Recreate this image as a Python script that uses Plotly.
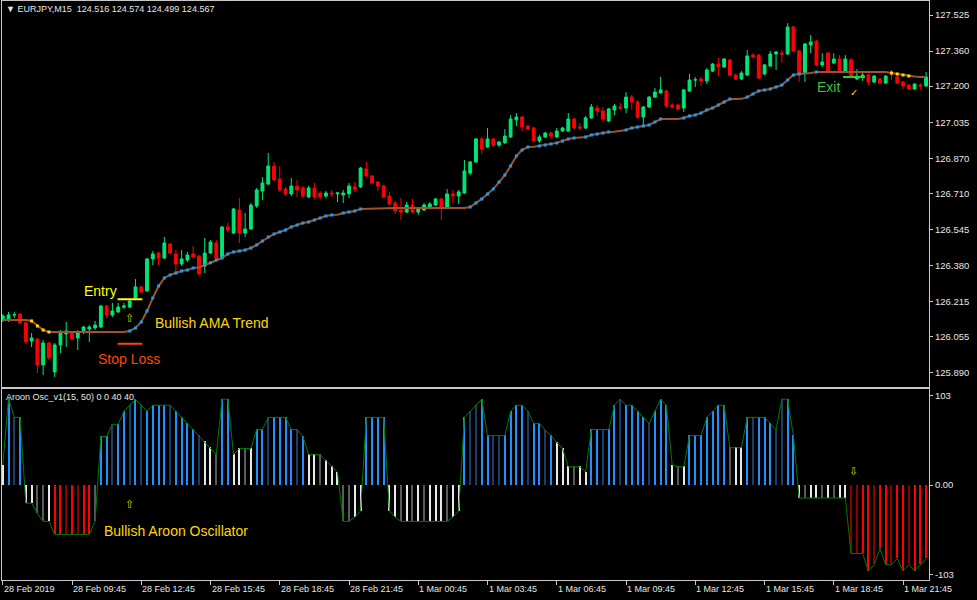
import plotly.graph_objects as go

# ---------------- data ----------------
bars = list(range(161))

open_ = [126.132,126.132,126.155,126.159,126.119,126.036,126.045,125.927,126.027,125.895,
         126.018,126.068,126.073,126.050,126.077,126.091,126.096,126.100,126.196,126.155,
         126.169,126.191,126.191,126.233,126.283,126.265,126.411,126.438,126.415,126.479,
         126.434,126.388,126.406,126.434,126.424,126.379,126.438,126.484,126.420,126.557,
         126.529,126.634,126.529,126.548,126.653,126.721,126.753,126.835,126.776,126.730,
         126.708,126.744,126.735,126.694,126.735,126.712,126.698,126.712,126.708,126.703,
         126.708,126.740,126.740,126.822,126.790,126.762,126.744,126.698,126.666,126.634,
         126.625,126.657,126.625,126.634,126.648,126.657,126.685,126.648,126.708,126.698,
         126.712,126.803,126.854,126.959,126.922,126.959,126.931,126.941,126.968,127.046,
         127.059,127.018,127.009,126.950,126.968,126.986,126.968,126.995,126.995,127.050,
         127.014,127.009,127.055,127.100,127.087,127.041,127.091,127.105,127.100,127.150,
         127.128,127.059,127.105,127.150,127.169,127.178,127.114,127.114,127.100,127.178,
         127.228,127.233,127.224,127.269,127.301,127.288,127.320,127.251,127.233,127.251,
         127.342,127.342,127.256,127.292,127.347,127.351,127.347,127.470,127.361,127.260,
         127.388,127.406,127.297,127.351,127.306,127.324,127.269,127.320,127.233,127.242,
         127.251,127.219,127.233,127.214,127.260,127.242,127.219,127.205,127.187,127.205,
         127.201]
high = [126.159,126.169,126.169,126.164,126.123,126.073,126.050,126.041,126.032,126.027,
        126.086,126.123,126.082,126.086,126.105,126.109,126.128,126.201,126.201,126.210,
        126.210,126.210,126.223,126.319,126.287,126.415,126.447,126.443,126.511,126.484,
        126.452,126.452,126.443,126.470,126.429,126.507,126.497,126.497,126.561,126.575,
        126.644,126.689,126.621,126.666,126.735,126.785,126.895,126.854,126.835,126.740,
        126.781,126.772,126.744,126.744,126.758,126.721,126.721,126.726,126.717,126.726,
        126.758,126.762,126.831,126.854,126.794,126.767,126.749,126.717,126.676,126.689,
        126.671,126.685,126.644,126.666,126.671,126.689,126.689,126.730,126.726,126.726,
        126.863,126.858,126.963,126.968,127.009,126.963,126.950,127.004,127.068,127.077,
        127.064,127.023,127.014,126.977,126.991,126.991,127.009,127.014,127.077,127.055,
        127.032,127.064,127.119,127.114,127.105,127.100,127.119,127.123,127.173,127.160,
        127.137,127.109,127.155,127.192,127.242,127.183,127.123,127.119,127.187,127.256,
        127.242,127.242,127.283,127.306,127.329,127.329,127.324,127.256,127.269,127.365,
        127.351,127.347,127.301,127.361,127.361,127.365,127.488,127.475,127.365,127.397,
        127.434,127.411,127.351,127.356,127.351,127.342,127.342,127.329,127.278,127.260,
        127.256,127.251,127.237,127.251,127.274,127.246,127.224,127.210,127.214,127.214,
        127.265]
low = [126.123,126.123,126.141,126.114,126.022,126.009,125.890,125.881,125.949,125.872,
       125.981,126.009,126.041,125.995,126.068,126.032,126.086,126.096,126.141,126.146,
       126.164,126.182,126.187,126.223,126.255,126.260,126.383,126.383,126.411,126.434,
       126.351,126.379,126.397,126.415,126.338,126.347,126.434,126.411,126.415,126.534,
       126.525,126.484,126.511,126.543,126.644,126.680,126.749,126.767,126.717,126.698,
       126.698,126.694,126.689,126.689,126.685,126.685,126.689,126.694,126.671,126.666,
       126.689,126.717,126.735,126.785,126.753,126.721,126.689,126.657,126.616,126.589,
       126.621,126.621,126.612,126.630,126.644,126.653,126.589,126.644,126.666,126.662,
       126.708,126.794,126.849,126.890,126.918,126.922,126.922,126.936,126.963,127.018,
       126.995,127.000,126.945,126.941,126.963,126.959,126.963,126.991,126.991,127.004,
       127.000,127.004,127.050,127.064,127.036,127.036,127.068,127.091,127.077,127.091,
       127.050,127.014,127.100,127.146,127.165,127.100,127.100,127.091,127.082,127.173,
       127.196,127.201,127.210,127.265,127.246,127.283,127.246,127.228,127.228,127.246,
       127.329,127.233,127.251,127.288,127.274,127.306,127.342,127.356,127.219,127.219,
       127.351,127.292,127.288,127.260,127.301,127.260,127.260,127.237,127.228,127.224,
       127.205,127.214,127.210,127.210,127.228,127.210,127.187,127.183,127.183,127.187,
       127.196]
close = [126.150,126.155,126.156,126.119,126.032,126.050,125.927,126.027,125.959,126.018,
         126.077,126.082,126.045,126.073,126.100,126.100,126.109,126.196,126.155,126.173,
         126.191,126.196,126.219,126.283,126.260,126.411,126.434,126.415,126.484,126.438,
         126.388,126.411,126.429,126.420,126.342,126.438,126.488,126.415,126.557,126.543,
         126.639,126.529,126.548,126.657,126.726,126.758,126.835,126.772,126.726,126.708,
         126.744,126.726,126.698,126.735,126.694,126.694,126.712,126.708,126.712,126.712,
         126.744,126.730,126.826,126.790,126.758,126.744,126.694,126.662,126.630,126.625,
         126.657,126.625,126.639,126.657,126.662,126.685,126.648,126.708,126.698,126.717,
         126.813,126.854,126.959,126.913,126.959,126.931,126.945,126.972,127.050,127.059,
         127.014,127.004,126.950,126.968,126.986,126.972,126.995,127.009,127.050,127.009,
         127.009,127.055,127.105,127.087,127.050,127.096,127.109,127.100,127.150,127.128,
         127.059,127.105,127.150,127.173,127.183,127.109,127.105,127.096,127.183,127.228,
         127.229,127.224,127.274,127.301,127.288,127.324,127.251,127.233,127.260,127.338,
         127.333,127.237,127.297,127.347,127.356,127.347,127.470,127.361,127.260,127.393,
         127.402,127.297,127.310,127.265,127.324,127.265,127.324,127.242,127.246,127.251,
         127.219,127.246,127.214,127.246,127.256,127.214,127.201,127.187,127.210,127.201,
         127.242]
ama = [126.132,126.132,126.132,126.132,126.132,126.128,126.105,126.086,126.077,126.077,
       126.077,126.077,126.077,126.077,126.077,126.077,126.077,126.077,126.077,126.077,
       126.077,126.077,126.082,126.096,126.123,126.173,126.233,126.287,126.324,126.338,
       126.347,126.356,126.360,126.370,126.372,126.383,126.393,126.406,126.415,126.434,
       126.443,126.447,126.452,126.461,126.475,126.493,126.511,126.525,126.534,126.543,
       126.557,126.566,126.575,126.580,126.589,126.598,126.607,126.612,126.613,126.621,
       126.625,126.630,126.639,126.640,126.642,126.644,126.644,126.644,126.644,126.644,
       126.644,126.644,126.644,126.644,126.644,126.644,126.644,126.644,126.644,126.644,
       126.644,126.648,126.666,126.685,126.708,126.730,126.762,126.794,126.835,126.881,
       126.909,126.922,126.923,126.927,126.931,126.936,126.941,126.950,126.959,126.963,
       126.964,126.968,126.977,126.982,126.986,126.991,126.992,126.995,127.000,127.009,
       127.014,127.018,127.023,127.036,127.050,127.050,127.050,127.050,127.055,127.064,
       127.068,127.077,127.091,127.100,127.114,127.128,127.141,127.141,127.142,127.150,
       127.164,127.178,127.183,127.187,127.196,127.205,127.228,127.251,127.256,127.257,
       127.260,127.265,127.265,127.265,127.265,127.265,127.265,127.265,127.265,127.265,
       127.265,127.265,127.265,127.265,127.260,127.256,127.251,127.246,127.244,127.242,
       127.242]
aroon = [23,100,78,78,-21,-21,-33,-42,-42,-57,
         -57,-57,-57,-57,-57,-57,-42,56,56,70,
         70,85,92,99,92,85,92,92,92,92,
         85,78,71,64,57,50,43,35,99,99,
         35,42,42,42,64,64,78,78,78,78,
         64,64,56,35,35,35,28,21,15,-42,
         -42,-37,-30,78,78,78,78,-30,-37,-42,
         -42,-42,-42,-42,-42,-42,-42,-42,-37,-30,
         78,85,92,99,57,57,57,57,85,92,
         92,85,71,71,63,57,49,42,21,21,
         21,15,64,64,64,64,92,99,92,92,
         85,78,71,85,99,92,23,21,21,57,
         57,57,78,85,92,92,43,43,43,78,
         78,78,78,71,64,99,99,57,-15,-15,
         -15,-15,-15,-15,-15,-15,-15,-79,-79,-79,
         -99,-92,-73,-92,-92,-85,-99,-92,-99,-92,
         -85]
aroon_state = ["W","LB","DB","LB","W","W","G","G","W","R",
               "R","DR","R","DR","R","R","G","LB","LB","DB",
               "LB","LB","DB","LB","DB","LB","LB","LB","LB","DB",
               "LB","LB","LB","LB","DB","W","W","G","LB","LB",
               "W","W","G","W","LB","LB","DB","LB","LB","LB",
               "LB","DB","LB","W","W","G","W","W","W","G",
               "G","W","W","LB","LB","LB","LB","W","W","G",
               "W","G","W","G","W","W","W","G","W","W",
               "LB","DB","DB","LB","LB","DB","DB","LB","LB","LB",
               "LB","DB","LB","LB","DB","LB","W","W","W","G",
               "W","W","LB","LB","DB","LB","LB","DB","LB","LB",
               "LB","LB","DB","LB","LB","LB","W","G","W","LB",
               "LB","LB","LB","LB","LB","LB","G","W","W","LB",
               "DB","LB","LB","LB","DB","DB","LB","LB","W","G",
               "W","W","G","W","G","W","W","DR","DR","R",
               "R","DR","R","R","DR","R","R","DR","R","R",
               "R"]

price_ticks = [127.525, 127.360, 127.200, 127.035, 126.870, 126.710,
               126.545, 126.380, 126.215, 126.055, 125.890]
price_tick_text = ["127.525", "127.360", "127.200", "127.035", "126.870", "126.710",
                   "126.545", "126.380", "126.215", "126.055", "125.890"]
osc_ticks = [103, 0, -103]
osc_tick_text = ["103", "0.00", "-103"]
time_tick_bars = [0, 12, 24, 36, 48, 60, 72, 84, 96, 108, 120, 132, 144, 156]
time_tick_text = ["28 Feb 2019", "28 Feb 09:45", "28 Feb 12:45", "28 Feb 15:45",
                  "28 Feb 18:45", "28 Feb 21:45", "1 Mar 00:45", "1 Mar 03:45",
                  "1 Mar 06:45", "1 Mar 09:45", "1 Mar 12:45", "1 Mar 15:45",
                  "1 Mar 18:45", "1 Mar 21:45"]

entry_price = 126.227
stop_price = 126.024
exit_price = 127.242

# ---------------- styles ----------------
STATE_COLORS = {"LB": "#1E90FF", "DB": "#1C3D66", "W": "#E8E8E8",
                "G": "#5A5A5A", "R": "#FF0000", "DR": "#8B0000"}
BORDER = "#C8C8C8"
FONT = "Liberation Sans, Arial, sans-serif"
TXT = "#E6E6E6"

H = 579.0
def py(pix):  # pixel row (from top of page) -> paper y
    return (580 - pix) / H
def px(pix):  # pixel column -> paper x
    return (pix - 2) / 927.0

fig = go.Figure()

fig.add_trace(go.Candlestick(
    x=bars, open=open_, high=high, low=low, close=close,
    xaxis="x", yaxis="y",
    increasing=dict(line=dict(color="#00E676", width=1), fillcolor="#00E676"),
    decreasing=dict(line=dict(color="#FF0000", width=1), fillcolor="#FF0000"),
    whiskerwidth=0, showlegend=False, hoverinfo="skip"))

fig.add_trace(go.Scatter(x=bars, y=ama, mode="lines", xaxis="x", yaxis="y",
                         line=dict(color="#A0522D", width=2), showlegend=False,
                         hoverinfo="skip"))

up_x, up_y, dn_x, dn_y = [], [], [], []
for i in range(1, len(ama)):
    d = ama[i] - ama[i - 1]
    if d > 0.0035:
        up_x.append(bars[i]); up_y.append(ama[i])
    elif d < -0.0035:
        dn_x.append(bars[i]); dn_y.append(ama[i])
fig.add_trace(go.Scatter(x=up_x, y=up_y, mode="markers", xaxis="x", yaxis="y",
                         marker=dict(color="#1E9BF0", size=3, symbol="square"),
                         showlegend=False, hoverinfo="skip"))
fig.add_trace(go.Scatter(x=dn_x, y=dn_y, mode="markers", xaxis="x", yaxis="y",
                         marker=dict(color="#FFD700", size=3, symbol="square"),
                         showlegend=False, hoverinfo="skip"))

fig.add_trace(go.Bar(x=bars, y=aroon, xaxis="x2", yaxis="y2", width=0.18,
                     marker=dict(color=[STATE_COLORS[s] for s in aroon_state],
                                 line=dict(width=0)),
                     showlegend=False, hoverinfo="skip"))
fig.add_trace(go.Scatter(x=bars, y=aroon, mode="lines", xaxis="x2", yaxis="y2",
                         line=dict(color="#007A00", width=1), showlegend=False,
                         hoverinfo="skip"))

# signal lines
fig.add_shape(type="line", xref="x", yref="y", x0=19.9, x1=24.2,
              y0=entry_price, y1=entry_price, line=dict(color="#FFFF00", width=2))
fig.add_shape(type="line", xref="x", yref="y", x0=19.9, x1=24.2,
              y0=stop_price, y1=stop_price, line=dict(color="#FF4500", width=2))
fig.add_shape(type="line", xref="x", yref="y", x0=145.6, x1=149.4,
              y0=exit_price, y1=exit_price, line=dict(color="#32CD32", width=2))

ann = []
def txt(text, x, y, color, size=14, xref="x", yref="y", xanchor="left",
        yanchor="middle", family=FONT):
    ann.append(dict(text=text, x=x, y=y, xref=xref, yref=yref, showarrow=False,
                    xanchor=xanchor, yanchor=yanchor,
                    font=dict(color=color, size=size, family=family)))

txt("Entry", 13.7, 126.265, "#FFFF00")
txt("Bullish AMA Trend", 26.0, 126.119, "#FFD700")
txt("Stop Loss", 16.2, 125.954, "#FF4500")
txt("Exit", 140.8, 127.196, "#3CC03C")
txt("⇧", 22.0, 126.137, "#CCCC00", size=11, xanchor="center", family="DejaVu Sans")
txt("✓", 147.5, 127.173, "#FFD700", size=10, xanchor="center", family="DejaVu Sans")
txt("Bullish Aroon Oscillator", 17.2, -53, "#FFD700", xref="x2", yref="y2")
txt("⇧", 22.0, -22, "#CCCC00", size=11, xref="x2", yref="y2", xanchor="center",
    family="DejaVu Sans")
txt("⇩", 147.4, 15, "#CCCC00", size=11, xref="x2", yref="y2", xanchor="center",
    family="DejaVu Sans")

txt("▼ EURJPY,M15  124.516 124.574 124.499 124.567", px(4), py(9), TXT, size=9,
    xref="paper", yref="paper")
txt("Aroon Osc_v1(15, 50) 0 0 40 40", px(4), py(397), TXT, size=9,
    xref="paper", yref="paper")
for t, b in zip(time_tick_text, time_tick_bars):
    ann.append(dict(text=t, x=b, y=py(589), xref="x2", yref="paper", showarrow=False,
                    xanchor="left", yanchor="middle", xshift=-1,
                    font=dict(color=TXT, size=9, family=FONT)))

fig.update_layout(
    width=977, height=600,
    margin=dict(l=2, r=48, t=1, b=20),
    paper_bgcolor="#000000", plot_bgcolor="#000000",
    bargap=0, showlegend=False,
    annotations=ann,
    xaxis=dict(domain=[0, 1], anchor="y", range=[-0.13, 160.5], matches="x2",
               showgrid=False, zeroline=False, showticklabels=False, ticks="",
               showline=True, mirror=True, linecolor=BORDER, linewidth=1,
               rangeslider=dict(visible=False)),
    yaxis=dict(domain=[py(386.7), 1], anchor="x", side="right",
               range=[125.8274, 127.589], showgrid=False, zeroline=False,
               tickvals=price_ticks, ticktext=price_tick_text,
               ticks="outside", ticklen=3, tickcolor=BORDER,
               tickfont=dict(color=TXT, size=9.5, family=FONT),
               showline=True, mirror=True, linecolor=BORDER, linewidth=1),
    xaxis2=dict(domain=[0, 1], anchor="y2", range=[-0.13, 160.5],
                showgrid=False, zeroline=False, showticklabels=False,
                tickvals=time_tick_bars, ticks="outside", ticklen=4, tickcolor=BORDER,
                showline=True, mirror=True, linecolor=BORDER, linewidth=1),
    yaxis2=dict(domain=[0, py(389.3)], anchor="x2", side="right",
                range=[-109.6, 110.4], showgrid=False, zeroline=False,
                tickvals=osc_ticks, ticktext=osc_tick_text,
                ticks="outside", ticklen=3, tickcolor=BORDER,
                tickfont=dict(color=TXT, size=9.5, family=FONT),
                showline=True, mirror=True, linecolor=BORDER, linewidth=1),
)

fig.write_html("out.html", config={"displayModeBar": False},
               post_script="document.body.style.margin='0';")
